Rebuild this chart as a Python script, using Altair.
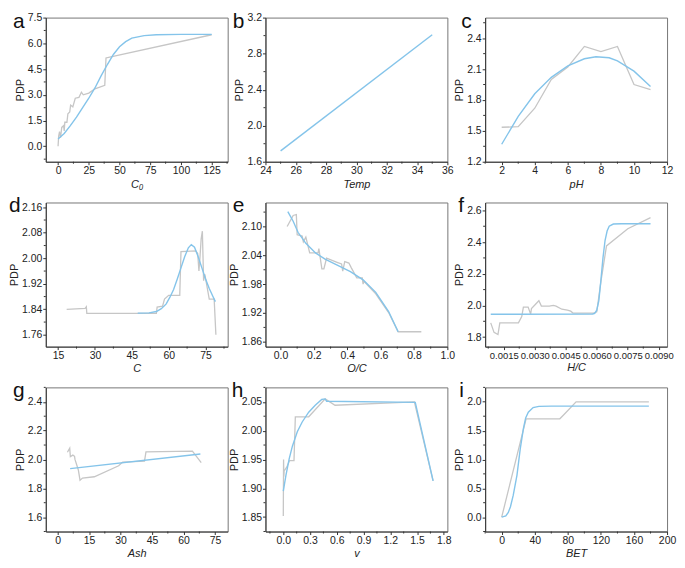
import altair as alt
import pandas as pd

# ---------------- data ----------------
# a: C0
a_gray_x = [0, 0.5, 1.2, 2, 3, 4.5, 5, 5.5, 7.2, 8, 9.5, 10.2, 12, 14, 17, 19, 20.5, 25, 30, 38, 39, 42, 125]
a_gray_y = [0.0, 0.6, 0.85, 0.5, 1.1, 1.2, 0.9, 1.4, 1.4, 1.9, 2.0, 2.4, 2.3, 2.8, 2.85, 3.15, 3.0, 3.1, 3.35, 3.55, 5.15, 5.2, 6.5]
a_blue_x = [0, 5, 10, 15, 20, 25, 30, 35, 40, 45, 50, 55, 60, 70, 80, 100, 125]
a_blue_y = [0.43, 0.75, 1.2, 1.7, 2.25, 2.8, 3.4, 4.1, 4.75, 5.35, 5.8, 6.1, 6.3, 6.45, 6.5, 6.52, 6.52]

# b: Temp
b_gray_x = []
b_gray_y = []
b_blue_x = [25, 35]
b_blue_y = [1.72, 3.01]

# c: pH
c_gray_x = [2, 3, 4, 5, 6, 7, 8, 9, 10, 11]
c_gray_y = [1.535, 1.54, 1.72, 2.0, 2.12, 2.32, 2.27, 2.32, 1.95, 1.9]
c_blue_x = [2, 3, 4, 5, 6, 7, 7.7, 8.5, 9, 10, 11]
c_blue_y = [1.37, 1.64, 1.86, 2.02, 2.13, 2.2, 2.22, 2.21, 2.18, 2.08, 1.93]

# d: C
d_gray_x = [18.5, 26, 26.5, 26.7, 55, 55.3, 57.5, 58.3, 60, 64.5, 65, 71, 71.8, 72.3, 72.7, 73.2, 73.7, 74.2, 74.7, 76.5, 78.5, 79.2]
d_gray_y = [1.84, 1.843, 1.848, 1.827, 1.827, 1.847, 1.85, 1.872, 1.884, 1.884, 2.021, 2.023, 2.015, 1.96, 2.0, 2.06, 2.085, 1.93, 1.95, 1.872, 1.872, 1.76]
d_blue_x = [47.4, 52, 55, 57, 59, 60.5, 62, 63.5, 65, 66.5, 68, 69.2, 70.5, 72, 73.5, 75, 76.5, 78, 79]
d_blue_y = [1.828, 1.829, 1.833, 1.842, 1.857, 1.878, 1.902, 1.935, 1.97, 2.005, 2.033, 2.043, 2.035, 2.005, 1.97, 1.935, 1.905, 1.88, 1.864]

# e: O/C
e_gray_x = [0.04, 0.076, 0.095, 0.1, 0.13, 0.137, 0.152, 0.175, 0.225, 0.23, 0.248, 0.26, 0.276, 0.343, 0.366, 0.373, 0.385, 0.41, 0.423, 0.457, 0.49, 0.495, 0.5, 0.571, 0.648, 0.705, 0.844]
e_gray_y = [2.10, 2.123, 2.125, 2.083, 2.08, 2.068, 2.078, 2.045, 2.045, 2.054, 2.012, 2.012, 2.034, 2.025, 2.022, 2.007, 2.027, 2.024, 2.015, 1.993, 1.993, 1.98, 1.986, 1.96, 1.921, 1.881, 1.881]
e_blue_x = [0.044, 0.076, 0.105, 0.152, 0.21, 0.267, 0.343, 0.419, 0.495, 0.571, 0.648, 0.705]
e_blue_y = [2.131, 2.111, 2.088, 2.065, 2.045, 2.032, 2.019, 2.006, 1.989, 1.963, 1.923, 1.881]

# f: H/C
f_gray_x = [0.00087, 0.00103, 0.00122, 0.00131, 0.00221, 0.00237, 0.00245, 0.00268, 0.0028, 0.00284, 0.0032, 0.00332, 0.0037, 0.0039, 0.00403, 0.00431, 0.00458, 0.00474, 0.00485, 0.00584, 0.006, 0.0062, 0.00647, 0.0075, 0.0086]
f_gray_y = [1.89, 1.83, 1.816, 1.89, 1.89, 1.93, 1.99, 1.99, 1.945, 1.98, 2.03, 1.996, 1.996, 2.0, 1.996, 1.976, 1.97, 1.964, 1.952, 1.952, 1.96, 2.15, 2.376, 2.484, 2.554]
f_blue_x = [0.00087, 0.0058, 0.0059, 0.006, 0.0061, 0.0062, 0.0063, 0.0064, 0.0065, 0.0066, 0.0068, 0.0072, 0.0086]
f_blue_y = [1.944, 1.946, 1.95, 1.97, 2.03, 2.16, 2.3, 2.41, 2.47, 2.5, 2.514, 2.516, 2.516]

# g: Ash
g_gray_x = [4.7, 5.8, 6.1, 7.3, 8.1, 8.3, 9.9, 10.7, 11.9, 17.5, 29.1, 31, 41.4, 42.1, 64.2, 68.4]
g_gray_y = [2.05, 2.078, 2.02, 2.03, 2.022, 2.0, 1.927, 1.856, 1.871, 1.88, 1.956, 1.982, 1.989, 2.053, 2.058, 1.978]
g_blue_x = [6, 68]
g_blue_y = [1.936, 2.038]

# h: v
h_gray_x = [0.0, 0.003, 0.006, 0.01, 0.04, 0.07, 0.12, 0.135, 0.285, 0.47, 0.58, 1.47, 1.68]
h_gray_y = [1.852, 1.95, 1.92, 1.93, 1.937, 1.948, 1.948, 2.024, 2.024, 2.055, 2.044, 2.05, 1.913]
h_blue_x = [0.0, 0.03, 0.066, 0.102, 0.157, 0.212, 0.285, 0.358, 0.431, 0.468, 0.486, 1.48, 1.68]
h_blue_y = [1.895, 1.923, 1.951, 1.973, 1.998, 2.015, 2.032, 2.044, 2.054, 2.055, 2.051, 2.049, 1.913]

# i: BET
i_gray_x = [0, 29.5, 70.3, 75.4, 90, 178]
i_gray_y = [0.0, 1.705, 1.705, 1.78, 2.0, 2.0]
i_blue_x = [0, 5, 8, 10.6, 14, 18.5, 22.4, 26.3, 29, 32.2, 38, 45, 60, 178]
i_blue_y = [0.0, 0.02, 0.08, 0.18, 0.38, 0.73, 1.18, 1.54, 1.72, 1.82, 1.9, 1.92, 1.925, 1.925]

# axes
letters = ["a", "b", "c", "d", "e", "f", "g", "h", "i"]
x_titles = ["C₀", "Temp", "pH", "C", "O/C", "H/C", "Ash", "v", "BET"]
x_domains = [[-10, 138], [24, 36], [1, 12], [10, 84], [-0.09, 1.0], [0.0006, 0.0094], [-5.6, 81], [-0.2, 1.84], [-20, 200]]
y_domains = [[-0.9, 7.5], [1.6, 3.2], [1.2, 2.6], [1.723, 2.175], [1.85, 2.15], [1.74, 2.65], [1.5, 2.5], [1.825, 2.075], [-0.25, 2.25]]
x_ticks = [[0, 25, 50, 75, 100, 125], [24, 26, 28, 30, 32, 34, 36], [2, 4, 6, 8, 10, 12], [15, 30, 45, 60, 75],
           [0.0, 0.2, 0.4, 0.6, 0.8, 1.0], [0.0015, 0.003, 0.0045, 0.006, 0.0075, 0.009], [0, 15, 30, 45, 60, 75],
           [0.0, 0.3, 0.6, 0.9, 1.2, 1.5, 1.8], [0, 40, 80, 120, 160, 200]]
y_ticks = [[0, 1.5, 3.0, 4.5, 6.0, 7.5], [1.6, 2.0, 2.4, 2.8, 3.2], [1.2, 1.5, 1.8, 2.1, 2.4], [1.76, 1.84, 1.92, 2.00, 2.08, 2.16],
           [1.86, 1.92, 1.98, 2.04, 2.10], [1.8, 2.0, 2.2, 2.4, 2.6], [1.6, 1.8, 2.0, 2.2, 2.4], [1.85, 1.90, 1.95, 2.00, 2.05],
           [0.0, 0.5, 1.0, 1.5, 2.0]]
x_formats = ["d", "d", "d", "d", ".1f", ".4f", "d", ".1f", "d"]
y_formats = [".1f", ".1f", ".1f", ".2f", ".2f", ".1f", ".1f", ".2f", ".1f"]

grays = [(a_gray_x, a_gray_y), (b_gray_x, b_gray_y), (c_gray_x, c_gray_y), (d_gray_x, d_gray_y), (e_gray_x, e_gray_y),
         (f_gray_x, f_gray_y), (g_gray_x, g_gray_y), (h_gray_x, h_gray_y), (i_gray_x, i_gray_y)]
blues = [(a_blue_x, a_blue_y), (b_blue_x, b_blue_y), (c_blue_x, c_blue_y), (d_blue_x, d_blue_y), (e_blue_x, e_blue_y),
         (f_blue_x, f_blue_y), (g_blue_x, g_blue_y), (h_blue_x, h_blue_y), (i_blue_x, i_blue_y)]

# ---------------- style ----------------
BLUE = "#84c4ea"
GRAY = "#c6c6c6"
AXC = "#333333"
W, H = 183, 145
letter_dx = [-33, -33, -24, -37, -33, -27, -33, -34, -26]
FONT = "Liberation Sans"


def minor_values(majors, dom):
    step = majors[1] - majors[0]
    cands = [majors[0] - step / 2] + [m + step / 2 for m in majors]
    return [c for c in cands if dom[0] <= c <= dom[1]]


def panel(k):
    xs = alt.Scale(domain=x_domains[k], zero=False, nice=False)
    ys = alt.Scale(domain=y_domains[k], zero=False, nice=False)
    xax = alt.Axis(values=x_ticks[k], format=x_formats[k], title=x_titles[k], titleFontStyle="italic",
                   labelFontSize=9.5 if k == 5 else 10.5)
    yax = alt.Axis(values=y_ticks[k], format=y_formats[k], title="PDP")
    layers = []
    gx, gy = grays[k]
    if gx:
        dg = pd.DataFrame({"x": gx, "y": gy, "i": list(range(len(gx)))})
        layers.append(alt.Chart(dg).mark_line(color=GRAY, strokeWidth=1.3).encode(
            x=alt.X("x:Q", scale=xs, axis=xax), y=alt.Y("y:Q", scale=ys, axis=yax), order="i:Q"))
    bx, by = blues[k]
    db = pd.DataFrame({"x": bx, "y": by, "i": list(range(len(bx)))})
    layers.append(alt.Chart(db).mark_line(color=BLUE, strokeWidth=1.4).encode(
        x=alt.X("x:Q", scale=xs, axis=xax), y=alt.Y("y:Q", scale=ys, axis=yax), order="i:Q"))
    # minor ticks (axis decoration placed through the scales)
    mx = pd.DataFrame({"v": minor_values(x_ticks[k], x_domains[k])})
    layers.append(alt.Chart(mx).mark_rule(color=AXC, strokeWidth=1).encode(
        x=alt.X("v:Q", scale=xs, axis=xax), y=alt.value(H), y2=alt.value(H + 2)))
    my = pd.DataFrame({"v": minor_values(y_ticks[k], y_domains[k])})
    layers.append(alt.Chart(my).mark_rule(color=AXC, strokeWidth=1).encode(
        y=alt.Y("v:Q", scale=ys, axis=yax), x=alt.value(0), x2=alt.value(-2)))
    lt = pd.DataFrame({"t": [letters[k]]})
    layers.append(alt.Chart(lt).mark_text(fontSize=21, font=FONT, align="left", baseline="alphabetic",
                                          color="#111").encode(text="t:N", x=alt.value(letter_dx[k]),
                                                               y=alt.value(10)))
    return alt.layer(*layers).properties(width=W, height=H)


panels = [panel(k) for k in range(9)]

chart = alt.concat(*panels, columns=3, spacing={"row": 41, "column": 38}, bounds="flush").properties(
    padding={"left": 0, "top": 0, "right": 0, "bottom": 0}
).configure_view(stroke="#777", strokeWidth=1).configure_axis(
    labelFont=FONT, titleFont=FONT, labelFontSize=10.5, titleFontSize=11, titleFontWeight="normal",
    tickSize=3, labelPadding=1, titlePadding=2, domainColor=AXC, tickColor=AXC,
    labelColor="#222", titleColor="#222", grid=False, labelFlush=False, labelOverlap=False
)

chart.save("out.html", embed_options={"renderer": "svg", "actions": False})
